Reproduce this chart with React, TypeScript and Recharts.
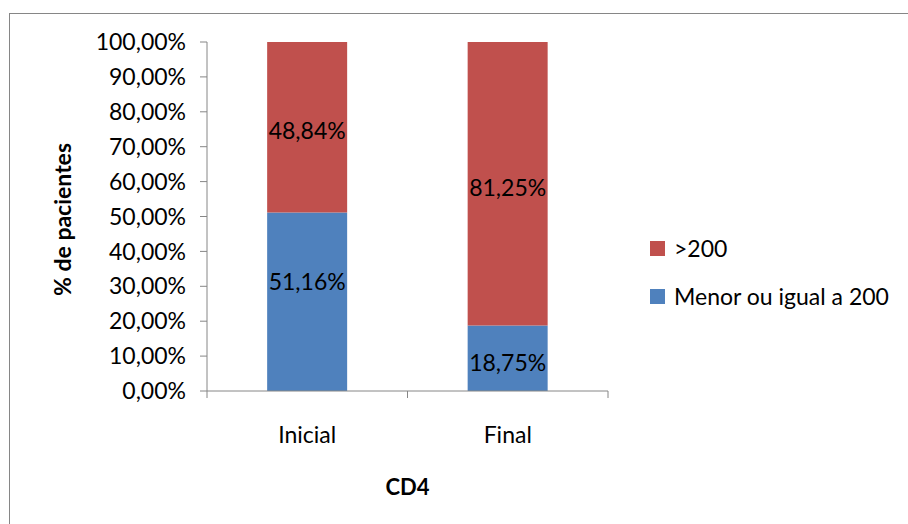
import { Bar, BarChart, LabelList, XAxis, YAxis } from 'recharts';

// CD4 distribution per moment (percent of patients)
const categories = ['Inicial', 'Final'];
const lowCd4 = [51.16, 18.75]; // Menor ou igual a 200
const highCd4 = [48.84, 81.25]; // >200
const yTicks = [0, 10, 20, 30, 40, 50, 60, 70, 80, 90, 100];

const data = categories.map((name, i) => ({ name, low: lowCd4[i], high: highCd4[i] }));

const W = 908;
const H = 524;
const MARGIN = { top: 42, right: 300, bottom: 33, left: 57 };
const Y_AXIS_W = 150;
const X_AXIS_H = 100;
const PLOT_W = W - MARGIN.left - Y_AXIS_W - MARGIN.right;
const FONT = 'Lato, "Open Sans", sans-serif';
const FS = 23;
const AXIS_GREY = '#868686';
const RED = '#C0504D';
const BLUE = '#4F81BD';

// legend entries, top to bottom
const legendItems = [
  { label: '>200', color: RED },
  { label: 'Menor ou igual a 200', color: BLUE },
];

const pct = (v: number) => `${v.toFixed(2).replace('.', ',')}%`;

const CategoryTick = (props: any) => {
  const { x, y, payload, index, visibleTicksCount } = props;
  const half = PLOT_W / categories.length / 2;
  const isLast = index === visibleTicksCount - 1;
  return (
    <g>
      <line x1={x - half} x2={x - half} y1={y} y2={y + 7} stroke={AXIS_GREY} />
      {isLast && <line x1={x + half} x2={x + half} y1={y} y2={y + 7} stroke={AXIS_GREY} />}
      <text x={x} y={y + 52} textAnchor="middle" fontSize={FS} fontFamily={FONT} fill="#000">
        {payload.value}
      </text>
    </g>
  );
};

const segmentLabel = (nudge: (i: number) => number) => (props: any) => {
  const { x, y, width, height, value, index } = props;
  return (
    <text
      x={x + width / 2}
      y={y + height / 2 + 3 + nudge(index)}
      textAnchor="middle"
      dominantBaseline="central"
      fontSize={FS}
      fontFamily={FONT}
      fill="#000"
    >
      {pct(value)}
    </text>
  );
};

export default function App() {
  return (
    <div
      style={{
        position: 'fixed',
        left: 0,
        top: 0,
        width: W,
        height: H,
        overflow: 'hidden',
        background: '#fff',
      }}
    >
      <div
        style={{
          position: 'absolute',
          left: 9,
          top: 13,
          width: W,
          height: H,
          borderLeft: `1.5px solid ${AXIS_GREY}`,
          borderTop: `1.5px solid ${AXIS_GREY}`,
        }}
      />
      <div
        style={{
          position: 'absolute',
          left: 650,
          top: 224,
          fontFamily: FONT,
          fontSize: FS,
          color: '#000',
        }}
      >
        {legendItems.map((item) => (
          <div key={item.label} style={{ display: 'flex', alignItems: 'center', height: 48 }}>
            <span style={{ width: 15, height: 15, background: item.color, marginRight: 9 }} />
            <span>{item.label}</span>
          </div>
        ))}
      </div>
      <BarChart
        width={W}
        height={H}
        data={data}
        margin={MARGIN}
        barCategoryGap="30%"
        style={{ position: 'absolute', left: 0, top: 0 }}
      >
        <XAxis
          dataKey="name"
          height={X_AXIS_H}
          stroke={AXIS_GREY}
          tickLine={false}
          tickSize={0}
          tickMargin={0}
          tick={<CategoryTick />}
          label={{
            content: ({ viewBox }: any) => (
              <text
                x={viewBox.x + viewBox.width / 2}
                y={viewBox.y + 104}
                textAnchor="middle"
                fontSize={22}
                fontWeight="bold"
                fontFamily={FONT}
                fill="#000"
              >
                CD4
              </text>
            ),
          }}
        />
        <YAxis
          width={Y_AXIS_W}
          domain={[0, 100]}
          ticks={yTicks}
          interval={0}
          tickFormatter={pct}
          stroke={AXIS_GREY}
          tickSize={7}
          tickMargin={14}
          tick={{ fill: '#000', fontSize: FS, fontFamily: FONT }}
          label={{
            content: ({ viewBox }: any) => {
              const cx = 62;
              const cy = viewBox.y + viewBox.height / 2 + 3;
              return (
                <text
                  x={cx}
                  y={cy}
                  transform={`rotate(-90 ${cx} ${cy})`}
                  textAnchor="middle"
                  dominantBaseline="central"
                  fontSize={23}
                  fontWeight="bold"
                  fontFamily={FONT}
                  fill="#000"
                >
                  % de pacientes
                </text>
              );
            },
          }}
        />
        <Bar dataKey="low" name="Menor ou igual a 200" stackId="cd4" fill={BLUE} isAnimationActive={false}>
          <LabelList dataKey="low" content={segmentLabel((i) => (i === 0 ? -24 : 1))} />
        </Bar>
        <Bar dataKey="high" name=">200" stackId="cd4" fill={RED} isAnimationActive={false}>
          <LabelList dataKey="high" content={segmentLabel(() => 0)} />
        </Bar>
      </BarChart>
    </div>
  );
}
